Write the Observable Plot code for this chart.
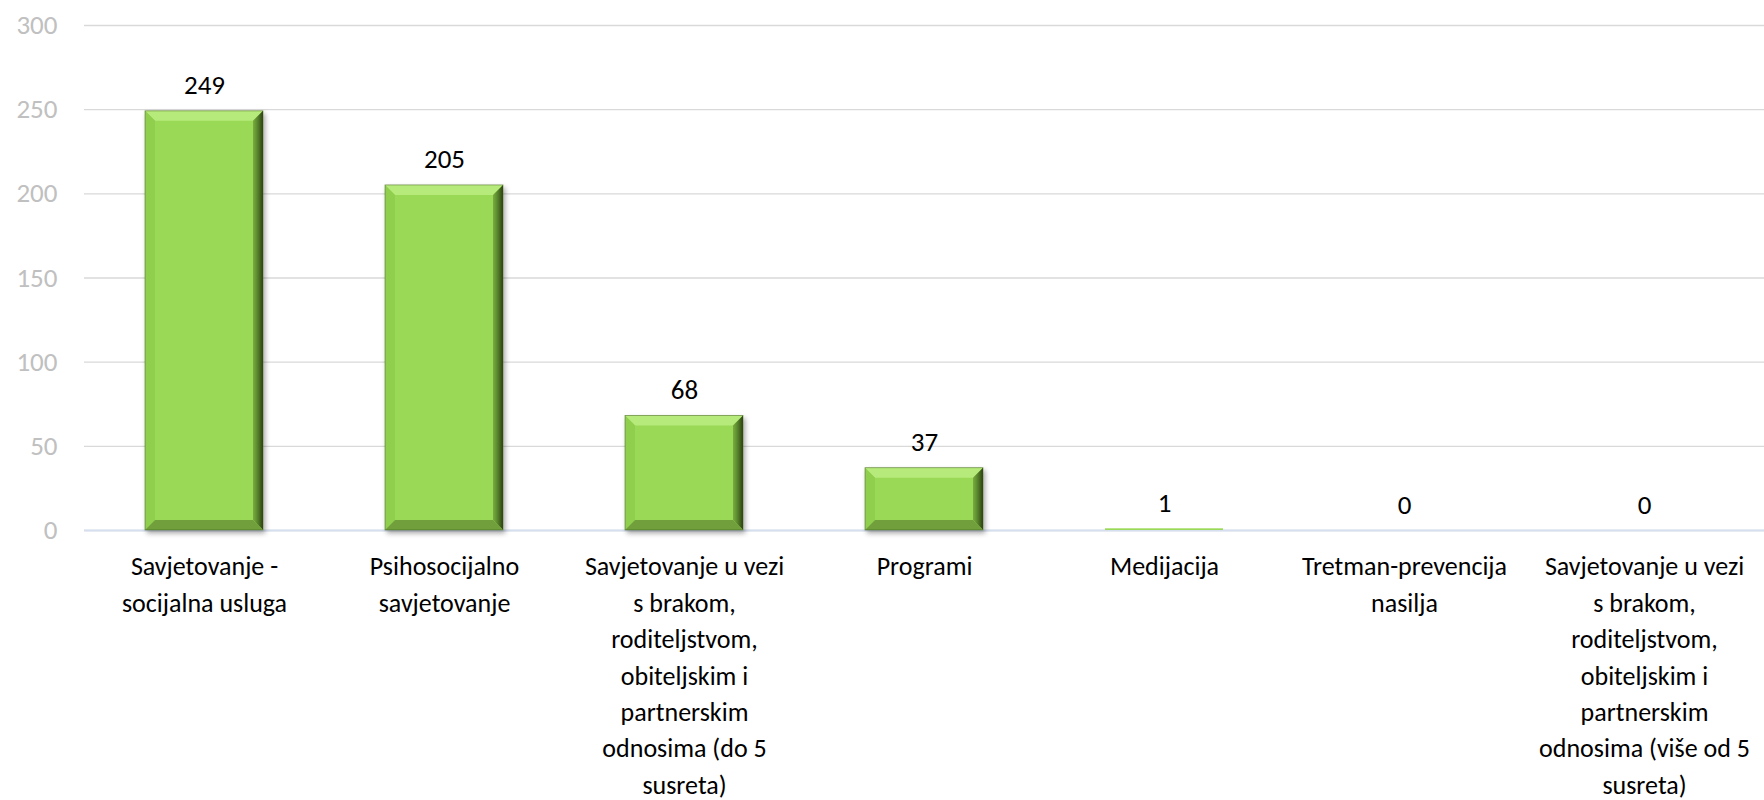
<!DOCTYPE html>
<html>
<head>
<meta charset="utf-8">
<script src="https://cdn.jsdelivr.net/npm/d3@7"></script>
<script src="https://cdn.jsdelivr.net/npm/@observablehq/plot@0.6"></script>
<style>
  html, body { margin: 0; padding: 0; background: #fff; }
  #chart svg { display: block; }
</style>
</head>
<body>
<div id="chart"></div>
<script>
const categories = [
  "Savjetovanje - socijalna usluga",
  "Psihosocijalno savjetovanje",
  "Savjetovanje u vezi s brakom, roditeljstvom, obiteljskim i partnerskim odnosima (do 5 susreta)",
  "Programi",
  "Medijacija",
  "Tretman-prevencija nasilja",
  "Savjetovanje u vezi s brakom, roditeljstvom, obiteljskim i partnerskim odnosima (više od 5 susreta)"
];
const tickLabels = [
  "Savjetovanje -\nsocijalna usluga",
  "Psihosocijalno\nsavjetovanje",
  "Savjetovanje u vezi\ns brakom,\nroditeljstvom,\nobiteljskim i\npartnerskim\nodnosima (do 5\nsusreta)",
  "Programi",
  "Medijacija",
  "Tretman-prevencija\nnasilja",
  "Savjetovanje u vezi\ns brakom,\nroditeljstvom,\nobiteljskim i\npartnerskim\nodnosima (više od 5\nsusreta)"
];
const values = [249, 205, 68, 37, 1, 0, 0];
const yTicks = [0, 50, 100, 150, 200, 250, 300];

const data = categories.map((c, i) => ({category: c, value: values[i]}));
const labelOf = new Map(categories.map((c, i) => [c, tickLabels[i]]));
const FONT = "Carlito, Lato, sans-serif";

const svg = Plot.plot({
  width: 1764,
  height: 800,
  marginTop: 25,
  marginBottom: 270,
  marginLeft: 84,
  marginRight: 0,
  style: {fontFamily: FONT, background: "#fff"},
  x: {domain: categories, paddingInner: 0.51, paddingOuter: 0.255, label: null},
  y: {domain: [0, 300], label: null},
  marks: [
    Plot.gridY(yTicks, {stroke: "#d9d9d9", strokeOpacity: 1, strokeWidth: 1.3}),
    Plot.ruleY([0], {stroke: "#d6dff0", strokeWidth: 2}),
    Plot.barY(data, {x: "category", y: "value", fill: "url(#barGrad)", inset: 0}),
    Plot.text(data, {x: "category", y: "value", text: d => String(d.value),
      lineAnchor: "bottom", dy: -17, fontSize: 27, fill: "#000"}),
    Plot.axisY(yTicks, {tickSize: 0, tickPadding: 27, fontSize: 27, color: "#c0c0c0", label: null}),
    Plot.axisX({tickSize: 0, tickPadding: 19, fontSize: 26, lineHeight: 1.40, color: "#000",
      tickFormat: d => labelOf.get(d), label: null})
  ]
});

// gradients / filters
const ns = "http://www.w3.org/2000/svg";
const defs = document.createElementNS(ns, "defs");
defs.innerHTML = `
  <linearGradient id="barGrad" x1="0" x2="1" y1="0" y2="0">
    <stop offset="0" stop-color="#9ad957"/>
    <stop offset="1" stop-color="#9ad957"/>
  </linearGradient>
  <linearGradient id="rightBevel" x1="0" x2="1" y1="0" y2="0">
    <stop offset="0" stop-color="#7aae3e"/>
    <stop offset="0.5" stop-color="#55802a"/>
    <stop offset="1" stop-color="#2b3f12"/>
  </linearGradient>
  <filter id="shadow" x="-10%" y="-10%" width="130%" height="130%">
    <feDropShadow dx="2" dy="3" stdDeviation="2.5" flood-color="#000" flood-opacity="0.35"/>
  </filter>`;
svg.insertBefore(defs, svg.firstChild);

svg.querySelectorAll('g[aria-label="bar"] rect').forEach(r => {
  const x = +r.getAttribute("x"), y = +r.getAttribute("y");
  const w = +r.getAttribute("width"), h = +r.getAttribute("height");
  if (!(h > 6)) return;
  const g = document.createElementNS(ns, "g");
  r.parentNode.insertBefore(g, r);
  g.appendChild(r);
  g.setAttribute("filter", "url(#shadow)");
  const b = Math.min(10, h / 2, w / 2);
  const poly = (pts, fill) => {
    const p = document.createElementNS(ns, "polygon");
    p.setAttribute("points", pts.map(q => q.join(",")).join(" "));
    p.setAttribute("fill", fill);
    g.appendChild(p);
  };
  const x2 = x + w, y2 = y + h;
  poly([[x, y], [x2, y], [x2 - b, y + b], [x + b, y + b]], "#b6ea7a");
  poly([[x, y], [x + b, y + b], [x + b, y2 - b], [x, y2]], "#8fcf4e");
  poly([[x2, y], [x2, y2], [x2 - b, y2 - b], [x2 - b, y + b]], "url(#rightBevel)");
  poly([[x, y2], [x + b, y2 - b], [x2 - b, y2 - b], [x2, y2]], "#6f9f3a");
  const o = document.createElementNS(ns, "rect");
  o.setAttribute("x", x); o.setAttribute("y", y);
  o.setAttribute("width", w); o.setAttribute("height", h);
  o.setAttribute("fill", "none"); o.setAttribute("stroke", "#3d5a1a");
  o.setAttribute("stroke-width", 0.8); o.setAttribute("stroke-opacity", 0.6);
  g.appendChild(o);
});

document.getElementById("chart").appendChild(svg);
</script>
</body>
</html>
